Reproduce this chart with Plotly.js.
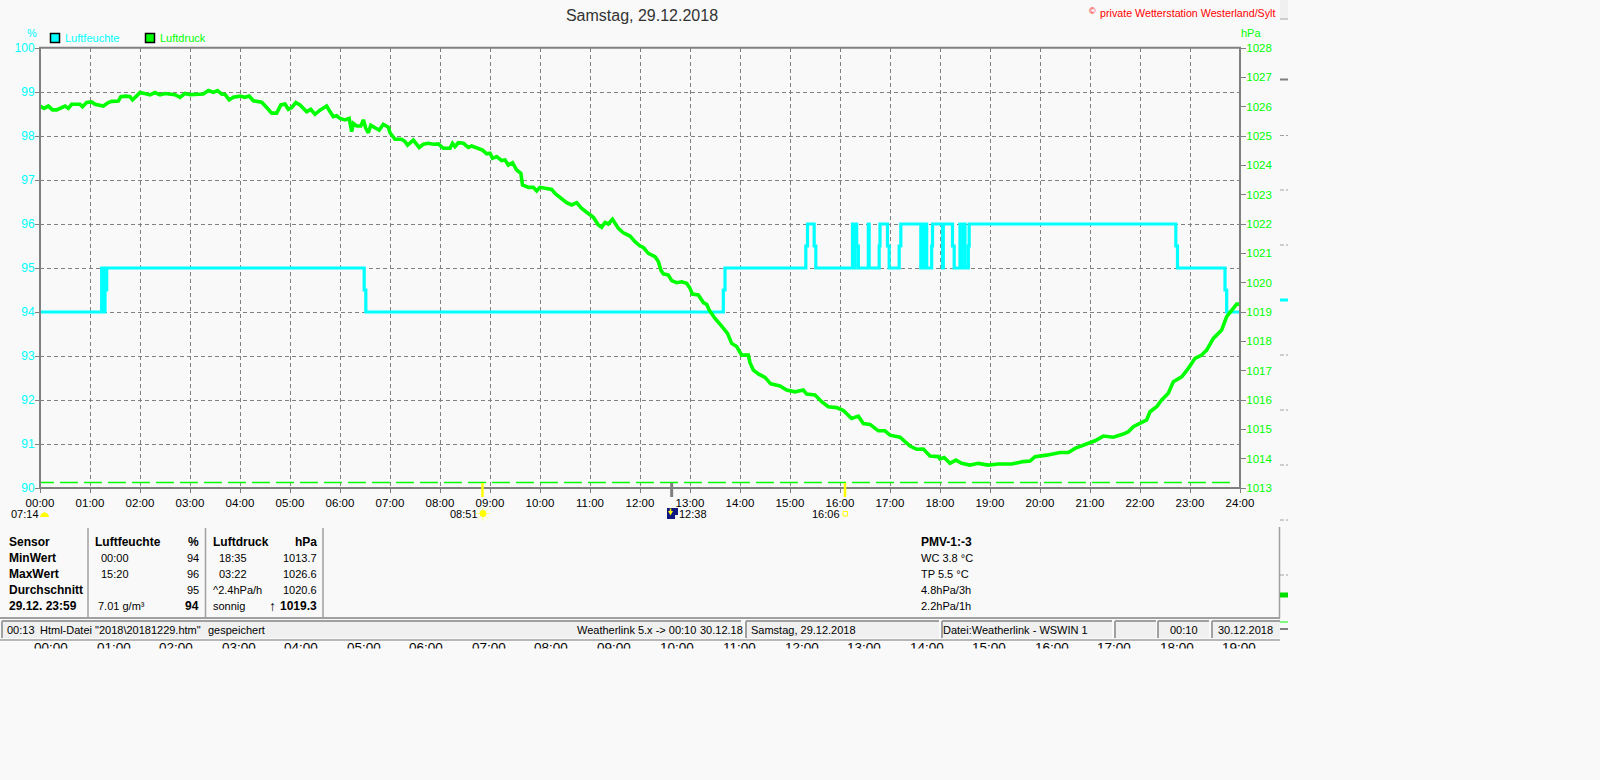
<!DOCTYPE html>
<html><head><meta charset="utf-8">
<script src="https://cdn.plot.ly/plotly-3.0.1.min.js"></script>
<style>html,body{margin:0;padding:0;background:#F9F9F9;overflow:hidden}#c{width:1600px;height:780px}</style>
</head><body><div id="c"></div>
<script>
const pressureMinutes=[0,5,10,15,20,25,30,34,38,48,51,56,62,66,72,76,82,86,94,97,103,108,111,116,120,128,132,138,144,150,156,162,168,174,180,188,196,202,208,213,218,222,227,232,240,246,251,256,266,272,278,284,289,294,298,302,307,312,320,325,330,336,344,347,352,356,
360,366,371,374,376,380,385,388,391,394,397,402,407,412,418,420,426,434,438,441,448,455,460,466,472,478,484,492,495,498,502,508,514,518,526,531,536,540,543,548,554,558,562,567,572,577,579,586,592,596,600,614,618,624,632,638,644,650,658,664,670,674,678,682,687,694,700,708,714,
720,724,730,738,742,745,748,754,758,764,770,776,780,783,790,796,800,803,810,818,825,830,836,842,850,852,856,862,870,877,888,896,906,916,920,930,938,946,956,964,974,982,988,996,1006,1014,1020,1032,1044,1052,1060,1068,1078,
1080,1085,1092,1099,1106,1116,1126,1138,1150,1166,1180,1188,1194,1208,1224,1234,1242,1250,1258,1266,1276,1288,1300,1306,1312,1320,1328,1332,1340,1346,1354,1360,1370,1378,1386,1394,1400,1408,1418,1424,1430,1436,1440];
const pressureHpa=[1026.02,1025.94,1026.02,1025.89,1025.89,1025.94,1026.02,1025.94,1026.08,1026.08,1026.00,1026.14,1026.16,1026.08,1026.06,1026.02,1026.14,1026.18,1026.19,1026.34,1026.36,1026.34,1026.23,1026.36,1026.48,1026.43,1026.40,1026.48,1026.40,1026.45,1026.43,1026.41,1026.32,1026.45,1026.41,1026.42,1026.43,1026.55,1026.49,1026.55,1026.43,1026.42,1026.23,1026.32,1026.36,1026.32,1026.36,1026.20,1026.15,1025.97,1025.78,1025.78,1026.06,1026.09,1025.91,1025.97,1026.14,1026.06,1025.83,1025.91,1025.74,1025.88,1026.02,1025.88,1025.66,1025.69,
1025.60,1025.55,1025.60,1025.15,1025.43,1025.34,1025.34,1025.55,1025.26,1025.11,1025.37,1025.28,1025.20,1025.40,1025.30,1025.11,1024.89,1024.89,1024.81,1024.69,1024.86,1024.61,1024.72,1024.75,1024.72,1024.73,1024.58,1024.58,1024.75,1024.64,1024.77,1024.75,1024.61,1024.66,1024.58,1024.52,1024.39,1024.41,1024.24,1024.30,1024.16,1024.18,1024.01,1024.09,1023.84,1023.73,1023.33,1023.25,1023.25,1023.13,1023.25,1023.18,1023.04,1022.91,1022.73,1022.65,1022.73,1022.53,1022.34,1022.23,1021.97,1021.89,1022.05,1022.00,1022.16,1021.85,1021.70,1021.59,1021.40,
1021.25,1021.20,1021.00,1020.89,1020.72,1020.43,1020.30,1020.26,1020.07,1020.00,1020.03,1019.98,1019.81,1019.61,1019.58,1019.32,1019.26,1019.07,1018.78,1018.52,1018.27,1017.93,1017.82,1017.53,1017.53,1017.27,1017.02,1016.89,1016.77,1016.55,1016.48,1016.34,1016.28,1016.34,1016.20,1016.17,1015.94,1015.77,1015.74,1015.64,1015.37,1015.45,1015.20,1015.17,1014.95,1014.95,1014.80,1014.73,1014.43,1014.32,1014.33,1014.09,1014.07,
1013.99,1014.04,1013.84,1013.95,1013.84,1013.78,1013.84,1013.78,1013.82,1013.82,1013.90,1013.92,1014.07,1014.12,1014.21,1014.21,1014.35,1014.44,1014.52,1014.61,1014.77,1014.73,1014.84,1014.92,1015.09,1015.20,1015.32,1015.60,1015.77,1016.00,1016.23,1016.62,1016.79,1017.08,1017.42,1017.53,1017.70,1018.10,1018.39,1018.84,1019.05,1019.27,1019.27];
const humidityMinutes=[0,74,75,76,77,78,80,389,391,820,822,919,921,929,931,975,977,978,980,982,994,995,1007,1008,1017,1019,1031,1033,1057,1058,1060,1061,1062,1063,1064,1070,1071,1083,1084,1095,1097,1104,1107,1108,1110,1114,1115,1363,1365,1422,1424,1440];
const humidityPct=[94,95,94,95,94,94.5,95,94.5,94,94.5,95,95.5,96,95.5,95,96,95,96,95.5,95,96,95,95.5,96,95.5,95,95.5,96,95,96,95,96,95,96,95,95.5,96,95,96,95.5,95,96,95,96,95,95.5,96,95.5,95,94.5,94,94];
const hourLabels=["00:00","01:00","02:00","03:00","04:00","05:00","06:00","07:00","08:00","09:00","10:00","11:00","12:00","13:00","14:00","15:00","16:00","17:00","18:00","19:00","20:00","21:00","22:00","23:00","24:00"];
const hourMinutes=[0,60,120,180,240,300,360,420,480,540,600,660,720,780,840,900,960,1020,1080,1140,1200,1260,1320,1380,1440];
const humidityTicks=[90,91,92,93,94,95,96,97,98,99,100];
const pressureTicks=[1013,1014,1015,1016,1017,1018,1019,1020,1021,1022,1023,1024,1025,1026,1027,1028];
const baselineMinutes=[-4.8,1428];
const baselineHpa=[1013.19,1013.19];
const eventMinutes=[531,758,966];
const eventColors=["#FFFF00","#808080","#FFFF00"];
const stripLabels=["00:00","01:00","02:00","03:00","04:00","05:00","06:00","07:00","08:00","09:00","10:00","11:00","12:00","13:00","14:00","15:00","16:00","17:00","18:00","19:00"];

const FONT='"Liberation Sans",Arial,sans-serif';
const X=p=>(p-40)/1200, Y=p=>(488-p)/440;
const ann=[],shp=[];
function T(text,x,y,o={}){ann.push({text:o.bold?'<b>'+text+'</b>':text,xref:'paper',yref:'paper',x:X(x),y:Y(y),xanchor:o.a||'left',yanchor:'middle',showarrow:false,borderpad:0,borderwidth:0,font:{family:FONT,size:o.s||(o.bold?12:11),color:o.c||'#000'}});}
function R(x0,y0,x1,y1,fill,line,w){shp.push({type:'rect',xref:'paper',yref:'paper',x0:X(x0),x1:X(x1),y0:Y(y0),y1:Y(y1),fillcolor:fill||'rgba(0,0,0,0)',line:{color:line||'rgba(0,0,0,0)',width:line?(w||1):0},layer:'above'});}
function L(x0,y0,x1,y1,c,w){shp.push({type:'line',xref:'paper',yref:'paper',x0:X(x0),x1:X(x1),y0:Y(y0),y1:Y(y1),line:{color:c,width:w||1},layer:'above'});}

// plot frame
const GR='#808080';
L(39,47.7,1241,47.7,GR,2);L(39,488,1241,488,GR,2);L(40,47,40,489,GR,2);L(1240,47,1240,489,GR,2);

// header
T('©',1092,11,{c:'#FF0000',a:'center',s:9});
T('private Wetterstation Westerland/Sylt',1100,12.5,{c:'#FF0000',s:10.7});
T('%',26.5,32.5,{c:'#00FFFF'});
T('hPa',1240.5,33,{c:'#00FF00'});
R(50.5,33.5,59.5,42.5,'#00FFFF','#000',1.5);
T('Luftfeuchte',64.5,38,{c:'#00FFFF'});
R(145.5,33.5,154.5,42.5,'#00FF00','#000',1.5);
T('Luftdruck',159.5,38,{c:'#00FF00'});

// sun events
eventMinutes.forEach((m,i)=>shp.push({type:'line',xref:'x',yref:'paper',x0:m,x1:m,y0:Y(483),y1:Y(497),line:{color:eventColors[i],width:i==1?3:2.5},layer:'above'}));
T('07:14',10.5,513.5);
shp.push({type:'path',xref:'paper',yref:'paper',path:`M ${X(40)} ${Y(517)} L ${X(41)} ${Y(514)} L ${X(44.5)} ${Y(512)} L ${X(48)} ${Y(514)} L ${X(49)} ${Y(517)} Z`,fillcolor:'#FFFF00',line:{width:0},layer:'above'});
T('08:51',450,513.5);
L(483,506,483,521,'#FFFF90',1);L(475.5,513.5,490.5,513.5,'#FFFF90',1);L(478,508.5,488,518.5,'#FFFF90',1);L(478,518.5,488,508.5,'#FFFF90',1);
shp.push({type:'circle',xref:'paper',yref:'paper',x0:X(480),x1:X(486),y0:Y(516.5),y1:Y(510.5),fillcolor:'#FFFF00',line:{color:'#FFFF00',width:1},layer:'above'});
T('12:38',679,513.5);
R(667,508,678,519,'#101880');
R(675,515,678,519,'#F0F0F0');
L(670.5,508.5,670.5,513,'#FFFF00',1.5);
shp.push({type:'path',xref:'paper',yref:'paper',path:`M ${X(668)} ${Y(511)} L ${X(670.5)} ${Y(515.5)} L ${X(673)} ${Y(511)} Z`,fillcolor:'#FFFF00',line:{width:0},layer:'above'});
T('16:06',811.5,513.5);
R(843,511.5,847.5,516,null,'#FFFF00',1);

// table
[88,205.5,323].forEach(x=>L(x,528,x,617,'#A0A0A0',1.5));
const rowY=[541.7,557.7,573.7,589.7,605.7];
['Sensor','MinWert','MaxWert','Durchschnitt','29.12. 23:59'].forEach((t,i)=>T(t,8.5,rowY[i],{bold:true}));
T('Luftfeuchte',94.5,rowY[0],{bold:true});T('%',198.5,rowY[0],{bold:true,a:'right'});
T('00:00',100.5,rowY[1]);T('94',198.5,rowY[1],{a:'right'});
T('15:20',100.5,rowY[2]);T('96',198.5,rowY[2],{a:'right'});
T('95',198.5,rowY[3],{a:'right'});
T('7.01 g/m³',97.5,rowY[4]);T('94',198.5,rowY[4],{bold:true,a:'right'});
T('Luftdruck',212.5,rowY[0],{bold:true});T('hPa',316.5,rowY[0],{bold:true,a:'right'});
T('18:35',218.5,rowY[1]);T('1013.7',316.5,rowY[1],{a:'right'});
T('03:22',218.5,rowY[2]);T('1026.6',316.5,rowY[2],{a:'right'});
T('^2.4hPa/h',212.5,rowY[3]);T('1020.6',316.5,rowY[3],{a:'right'});
T('sonnig',212.5,rowY[4]);T('↑',272,rowY[4],{bold:true,a:'center',s:14});T('1019.3',316.5,rowY[4],{bold:true,a:'right'});
T('PMV-1:-3',920.5,rowY[0],{bold:true});
T('WC 3.8 °C',920.5,rowY[1]);T('TP 5.5 °C',920.5,rowY[2]);T('4.8hPa/3h',920.5,rowY[3]);T('2.2hPa/1h',920.5,rowY[4]);

// window frame + status bar
L(0,618,1280,618,'#A0A0A0',2);
L(1279.5,527,1279.5,618,'#A0A0A0',1.5);
[[2,741],[746,939],[942,1112],[1115,1156],[1158,1209],[1212,1280]].forEach(([a,b])=>{
  R(a,621,b,638,'#F0F0F0');L(a,621,b,621,'#A0A0A0',2);L(a,621,a,638,'#A0A0A0',2);
});
L(0,640,1280,640,'#A0A0A0',1.5);
T('00:13',6.5,630);T('Html-Datei',39.5,630);T('"2018\\20181229.htm"',95,630);T('gespeichert',207.5,630);
T('Weatherlink 5.x -&gt; 00:10',577,630);T('30.12.18',699.5,630);
T('Samstag, 29.12.2018',750.5,630);T('Datei:Weatherlink - WSWIN 1',943,630);T('00:10',1170,630);T('30.12.2018',1218,630);

// clipped time row
stripLabels.forEach((t,i)=>T(t,51+62.55*i,647,{a:'center',s:13.5}));
ann.push({text:' ',xref:'paper',yref:'paper',x:X(0),y:Y(648),xanchor:'left',yanchor:'top',showarrow:false,width:1600,height:132,bgcolor:'#F9F9F9',borderpad:0,font:{size:12}});

// right strip
R(1280,0,1288,18,'#F0F0F0');
L(1280,19,1288,19,'#A0A0A0',1);
L(1280,79.5,1288,79.5,'#808080',2);
[135.5,190,245,355,410,465,520,575].forEach(y=>{L(1280,y,1284,y,'#A0A0A0',1);L(1286,y,1288,y,'#A0A0A0',1);});
L(1280,300,1288,300,'#00FFFF',3);
L(1280,595,1288,595,'#00E000',5);
L(1280,622,1288,622,'#00FF00',1);
L(1280,629,1288,629,'#808080',2);

const traces=[
 {x:baselineMinutes,y:baselineHpa,yaxis:'y2',mode:'lines',cliponaxis:false,line:{color:'#00FF00',width:1.5,dash:'18px,6px'},hoverinfo:'skip'},
 {x:humidityMinutes,y:humidityPct,name:'Luftfeuchte',mode:'lines',line:{color:'#00FFFF',width:3.2,shape:'hv'}},
 {x:pressureMinutes,y:pressureHpa,name:'Luftdruck',yaxis:'y2',mode:'lines',line:{color:'#00FF00',width:3.6}}
];
Plotly.newPlot('c',traces,{
 width:1600,height:780,showlegend:false,
 paper_bgcolor:'#F9F9F9',plot_bgcolor:'#F9F9F9',
 margin:{l:40,r:360,t:48,b:292,pad:0},
 title:{text:'Samstag, 29.12.2018',x:642/1600,xanchor:'center',y:1-15/780,yanchor:'middle',font:{family:FONT,size:16,color:'#333'}},
 font:{family:FONT,size:11},
 xaxis:{range:[0,1440],tickmode:'array',tickvals:hourMinutes,ticktext:hourLabels,tickangle:0,showgrid:true,gridcolor:GR,griddash:'4px,3px',gridwidth:1,zeroline:false,showline:false,ticks:'outside',ticklen:4,tickcolor:GR,tickfont:{family:FONT,size:11.5,color:'#000'}},
 yaxis:{range:[90,100],tickmode:'array',tickvals:humidityTicks,showgrid:true,gridcolor:GR,griddash:'4px,3px',gridwidth:1,zeroline:false,showline:false,ticks:'outside',ticklen:4,ticklabelstandoff:-2,tickcolor:GR,tickfont:{family:FONT,size:12,color:'#00FFFF'}},
 yaxis2:{range:[1013,1028],overlaying:'y',side:'right',tickmode:'array',tickvals:pressureTicks,showgrid:false,zeroline:false,showline:false,ticks:'outside',ticklen:5,ticklabelstandoff:-2,tickcolor:GR,tickfont:{family:FONT,size:11.5,color:'#00FF00'}},
 annotations:ann,shapes:shp
},{displayModeBar:false,staticPlot:true});
</script></body></html>
